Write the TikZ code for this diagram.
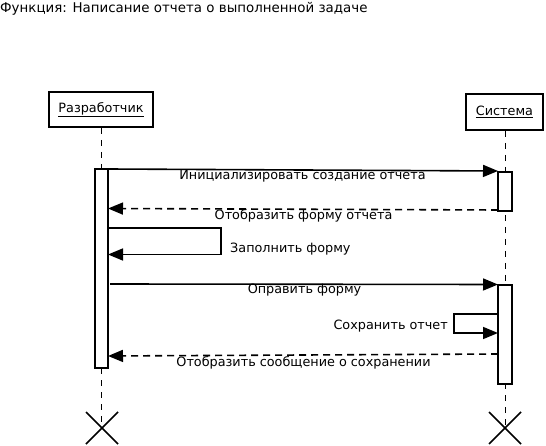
\documentclass[tikz,border=0pt]{standalone}
\usepackage{fontspec}
\setmainfont{DejaVu Sans}
\usetikzlibrary{arrows.meta}
\begin{document}
\begin{tikzpicture}[x=1pt,y=-1pt,
  actor/.style={draw,line width=2pt,minimum width=#1,minimum height=35pt,inner sep=0pt,font=\fontsize{12.8}{14}\selectfont},
  life/.style={dashed,line width=0.8pt,dash pattern=on 6pt off 6pt},
  act/.style={draw,line width=1.6pt,fill=white},
  msg/.style={line width=1.6pt,-{Triangle[length=15pt,width=12pt]}},
  ret/.style={msg,dash pattern=on 7pt off 5pt},
  lbl/.style={font=\fontsize{12.8}{14}\selectfont,inner sep=0pt},
  xmark/.style={line width=1.6pt}]
\useasboundingbox (0,0) rectangle (546,446);
\node[anchor=base west,inner sep=0pt,font=\fontsize{13.4}{15}\selectfont] (title) at (0,13) {Функция: Написание отчета о выполненной задаче};
\node[actor=104pt] (dev) at (101,109.5) {\underline{Разработчик}};
\node[actor=77pt,minimum height=36pt] (sys) at (504.5,112) {\underline{Система}};
\coordinate (devend) at (101,428);
\coordinate (sysend) at (505,428);
\draw[life] (dev.south) -- (devend);
\draw[life] (sys.south -| sysend) -- (sysend);
\node[act,minimum width=13pt,minimum height=199pt,inner sep=0pt,anchor=north] (adev) at (101.5,168) {};
\node[act,minimum width=14pt,minimum height=39pt,inner sep=0pt,anchor=north] (asys1) at (505,171) {};
\node[act,minimum width=14pt,minimum height=99pt,inner sep=0pt,anchor=north] (asys2) at (505,284) {};
% messages
\coordinate (m1s) at (108,169);
\coordinate (m1e) at (498,171);
\draw[msg] (m1s) -- (m1e);
\node[lbl] (l1) at (302.5,176.5) {Инициализировать создание отчета};
\coordinate (m2s) at (498,210);
\coordinate (m2e) at (108,208.5);
\draw[ret] (m2s) -- (m2e);
\node[lbl] (l2) at (303.5,216) {Отобразить форму отчета};
\coordinate (s1a) at (108,228);
\coordinate (s1b) at (221,228);
\coordinate (s1c) at (221,254.5);
\coordinate (s1d) at (108,254.5);
\draw[msg] (s1a) -- (s1b) -- (s1c) -- (s1d);
\node[lbl,anchor=west] (l3) at (230,249.5) {Заполнить форму};
\coordinate (m4s) at (110,284);
\coordinate (m4e) at (498,284.5);
\draw[msg] (m4s) -- (m4e);
\node[lbl] (l4) at (304.5,290.5) {Оправить форму};
\coordinate (s2a) at (498,314);
\coordinate (s2b) at (454,314);
\coordinate (s2c) at (454,333);
\coordinate (s2d) at (498,333);
\draw[msg] (s2a) -- (s2b) -- (s2c) -- (s2d);
\node[lbl,anchor=east] (l5) at (448,326.5) {Сохранить отчет};
\coordinate (m6s) at (498,354);
\coordinate (m6e) at (108,356);
\draw[ret] (m6s) -- (m6e);
\node[lbl] (l6) at (303.5,362.5) {Отобразить сообщение о сохранении};
% destruction
\draw[xmark] (86,412) -- (118,444) (86,444) -- (118,412);
\draw[xmark] (489,412) -- (521,444) (489,444) -- (521,412);
\end{tikzpicture}
\end{document}
